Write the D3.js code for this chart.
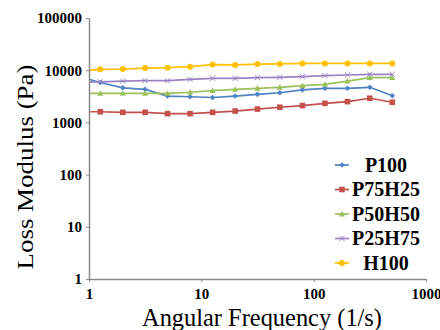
<!DOCTYPE html>
<html>
<head>
<meta charset="utf-8">
<script src="https://cdn.jsdelivr.net/npm/d3@7"></script>
<style>
  body { margin: 0; background: #fff; }
  svg { display: block; }
</style>
</head>
<body>
<script>
const w = 440;
const h = 330;

// angular frequency (1/s)
const freq = [1, 1.26, 2, 3.16, 5, 7.94, 12.6, 20, 31.6, 50, 79.4, 126, 200, 316, 501];

// loss modulus (Pa)
const p100   = [6700, 5800, 4600, 4300, 3200, 3100, 3000, 3200, 3450, 3700, 4200, 4500, 4500, 4700, 3250];
const p75h25 = [1600, 1600, 1560, 1560, 1470, 1470, 1560, 1650, 1800, 1950, 2100, 2320, 2500, 2900, 2430];
const p50h50 = [3600, 3600, 3600, 3600, 3600, 3780, 4050, 4300, 4500, 4700, 5050, 5370, 6200, 7200, 7200];
const p25h75 = [6000, 6000, 6200, 6300, 6300, 6700, 7000, 7000, 7200, 7300, 7500, 7850, 8100, 8350, 8350];
const h100   = [10000, 10400, 10500, 11000, 11200, 11700, 12800, 12600, 13100, 13200, 13500, 13500, 13500, 13500, 13500];

const seriesNames = ['P100', 'P75H25', 'P50H50', 'P25H75', 'H100'];
const xTicks = [1, 10, 100, 1000];
const yTicks = [1, 10, 100, 1000, 10000, 100000];

const series = [
  { name: seriesNames[0], values: p100,   color: '#4f84c4', marker: 'diamond' },
  { name: seriesNames[1], values: p75h25, color: '#c4504c', marker: 'square' },
  { name: seriesNames[2], values: p50h50, color: '#9cc05a', marker: 'triangle' },
  { name: seriesNames[3], values: p25h75, color: '#9a82c4', marker: 'cross' },
  { name: seriesNames[4], values: h100,   color: '#ffc000', marker: 'circle' }
];

const xScale = d3.scaleLog().domain([1, 1000]).range([89, 426]);
const yScale = d3.scaleLog().domain([1, 100000]).range([279, 18]);

const svg = d3.select('body').append('svg')
  .attr('width', w)
  .attr('height', h);

const line = d3.line()
  .x((d) => xScale(d[0]))
  .y((d) => yScale(d[1]));

const drawMarker = function (g, type, color) {
  if (type === 'diamond') {
    g.append('path').attr('d', 'M0,-2.8L2.8,0L0,2.8L-2.8,0Z').attr('fill', color);
  } else if (type === 'square') {
    g.append('rect').attr('x', -2.8).attr('y', -2.8).attr('width', 5.6).attr('height', 5.6).attr('fill', color);
  } else if (type === 'triangle') {
    g.append('path').attr('d', 'M0,-3.2L3,2.4L-3,2.4Z').attr('fill', color);
  } else if (type === 'cross') {
    g.append('path').attr('d', 'M-2.6,-2.6L2.6,2.6M-2.6,2.6L2.6,-2.6').attr('stroke', color).attr('stroke-width', 1);
  } else {
    g.append('circle').attr('r', 3).attr('fill', color);
  }
};

series.forEach((s) => {
  const pts = freq.map((f, i) => [f, s.values[i]]);
  svg.append('path')
    .datum(pts)
    .attr('fill', 'none')
    .attr('stroke', s.color)
    .attr('stroke-width', 1.7)
    .attr('d', line);

  pts.slice(1).forEach((p) => {
    const g = svg.append('g')
      .attr('transform', `translate(${xScale(p[0])}, ${yScale(p[1])})`);
    drawMarker(g, s.marker, s.color);
  });
});

// axes
const xAxis = d3.axisBottom(xScale).tickValues(xTicks).tickFormat(d3.format('d')).tickSize(3).tickSizeOuter(0);
const yAxis = d3.axisLeft(yScale).tickValues(yTicks).tickFormat(d3.format('d')).tickSize(3).tickSizeOuter(0);

const gx = svg.append('g')
  .attr('transform', `translate(0, ${yScale(1)})`)
  .call(xAxis);

const gy = svg.append('g')
  .attr('transform', `translate(${xScale(1)}, 0)`)
  .call(yAxis);

[gx, gy].forEach((g) => {
  g.attr('font-family', null);
  g.select('.domain').attr('stroke', '#8a8a8a').attr('stroke-width', 1.5);
  g.selectAll('.tick line').attr('stroke', '#8a8a8a');
  g.selectAll('.tick text')
    .attr('fill', '#000')
    .style('font-family', '"Liberation Serif", "Times New Roman", serif')
    .style('font-weight', 'bold')
    .style('font-size', '15px');
});
gx.selectAll('.tick text').attr('dy', '0.9em');
gy.selectAll('.tick text').attr('x', -7);

// axis titles
svg.append('text')
  .attr('x', 262)
  .attr('y', 326)
  .attr('text-anchor', 'middle')
  .attr('textLength', 240)
  .attr('lengthAdjust', 'spacingAndGlyphs')
  .style('font-family', '"Liberation Serif", "Times New Roman", serif')
  .style('font-size', '25px')
  .text('Angular Frequency (1/s)');

svg.append('text')
  .attr('transform', 'translate(33, 167) rotate(-90)')
  .attr('text-anchor', 'middle')
  .attr('textLength', 205)
  .attr('lengthAdjust', 'spacingAndGlyphs')
  .style('font-family', '"Liberation Serif", "Times New Roman", serif')
  .style('font-size', '24px')
  .text('Loss Modulus (Pa)');

// legend
const legend = svg.append('g').attr('id', 'legend');
series.forEach((s, i) => {
  const yy = 165 + i * 24.5;
  legend.append('line')
    .attr('x1', 335).attr('x2', 349)
    .attr('y1', yy).attr('y2', yy)
    .attr('stroke', s.color)
    .attr('stroke-width', 1.7);
  const g = legend.append('g').attr('transform', `translate(342, ${yy})`);
  drawMarker(g, s.marker, s.color);
  legend.append('text')
    .attr('x', 386)
    .attr('y', yy + 6.8)
    .attr('text-anchor', 'middle')
    .style('font-family', '"Liberation Serif", "Times New Roman", serif')
    .style('font-weight', 'bold')
    .style('font-size', '20px')
    .text(s.name);
});
</script>
</body>
</html>
